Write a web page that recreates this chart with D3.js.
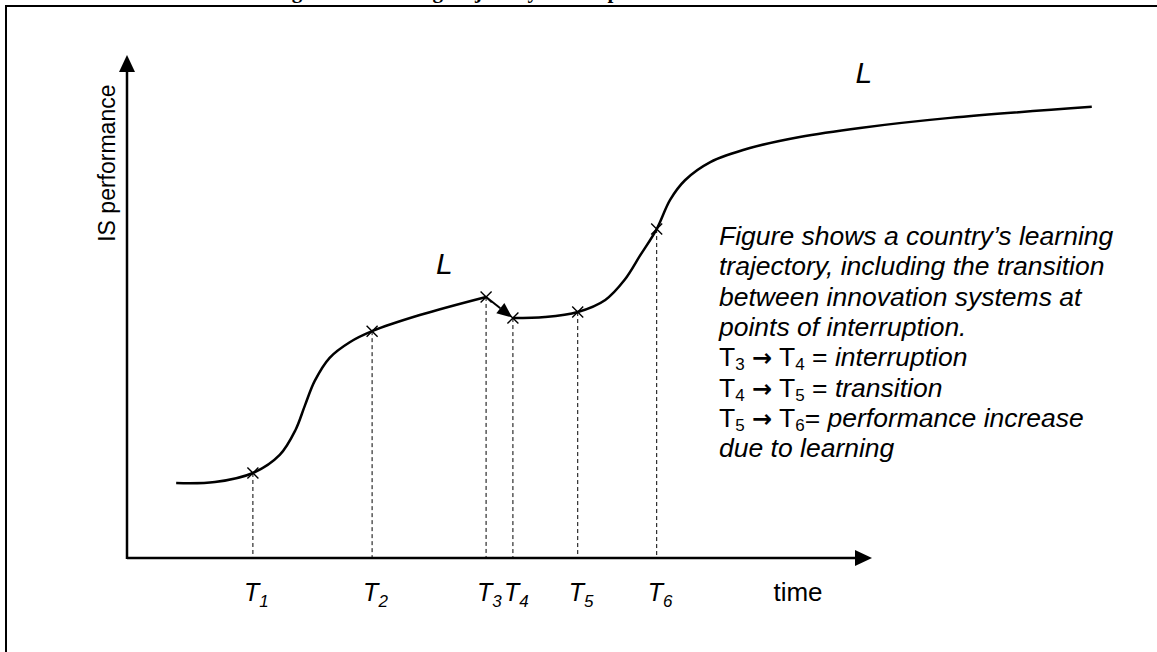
<!DOCTYPE html>
<html><head><meta charset="utf-8">
<script src="https://cdn.jsdelivr.net/npm/d3@7"></script>
<style>body{margin:0;background:#fff}svg{display:block}</style>
</head><body>
<svg id="c" width="1157" height="652"></svg>
<script>
// ---- data (time / performance in arbitrary 0-100 units) ----
const curveBefore = [[6.6,14.9],[11.8,15.1],[16.9,16.9],[20.5,20.5],[22.6,25.4],[23.9,30.4],[25.2,35.2],[27.2,39.8],[29.9,42.9],[32.9,45.1],[39.3,48.3],[48.2,51.9]];
const curveAfter = [[51.8,47.7],[56.1,47.9],[60.5,48.9],[64.2,51.3],[66.8,55.3],[68.9,60.2],[71.1,65.4],[72.9,71.2],[74.9,75.1],[78.3,78.7],[83.6,81.5],[90.3,83.7],[98.4,85.5],[110.5,87.5],[129.5,89.7]];
const markerNames = ["1","2","3","4","5","6"];
const markerX = [16.9,32.9,48.2,51.8,60.5,71.1];
const markerY = [16.9,45.1,51.9,47.7,48.9,65.4];
const curveLabels = [{x:42.6,y:56.5},{x:98.9,y:94.5}];
const xAxisTitle = "time";
const yAxisTitle = "IS performance";
const titleText = "Figure 2: Learning trajectory and IS performance";
const noteLines = [
  [["Figure shows a country’s learning","i"]],
  [["trajectory, including the transition","i"]],
  [["between innovation systems at","i"]],
  [["points of interruption.","i"]],
  [["T","n"],["3","s"],[" ","n"],["→","a"],[" T","n"],["4","s"],[" = ","n"],["interruption","i"]],
  [["T","n"],["4","s"],[" ","n"],["→","a"],[" T","n"],["5","s"],[" = ","n"],["transition","i"]],
  [["T","n"],["5","s"],[" ","n"],["→","a"],[" T","n"],["6","s"],["= ","n"],["performance increase","i"]],
  [["due to learning","i"]]
];

const svg = d3.select("#c");
const F = "'Liberation Sans', Arial, sans-serif";
const x = d3.scaleLinear().domain([0,100]).range([127,872]);
const y = d3.scaleLinear().domain([0,100]).range([558,55]);

// frame
svg.append("path").attr("d","M6,1000 V6 H1200").attr("fill","none").attr("stroke","#000").attr("stroke-width",2);
// title (cut off at the top edge, as in the source)
svg.append("text").attr("x",273).attr("y",-2.5).attr("font-family","'Liberation Serif', 'Times New Roman', serif")
  .attr("font-weight","bold").attr("font-size",21).text(titleText);

// axes
const ax = svg.append("g");
ax.append("line").attr("x1",x(0)).attr("x2",x(100)-14).attr("y1",y(0)).attr("y2",y(0)).attr("stroke","#000").attr("stroke-width",2.5);
ax.append("line").attr("x1",x(0)).attr("x2",x(0)).attr("y1",y(0)+1).attr("y2",y(100)+14).attr("stroke","#000").attr("stroke-width",2.5);
ax.append("path").attr("d",`M${x(100)},${y(0)} L${x(100)-17},${y(0)-8} L${x(100)-17},${y(0)+8} Z`).attr("fill","#000");
ax.append("path").attr("d",`M${x(0)},${y(100)} L${x(0)-8},${y(100)+17} L${x(0)+8},${y(100)+17} Z`).attr("fill","#000");

// dashed drop lines
const pts = markerNames.map((n,i)=>({n, x:markerX[i], y:markerY[i]}));
svg.selectAll(".drop").data(pts).join("line")
  .attr("x1",d=>x(d.x)).attr("x2",d=>x(d.x)).attr("y1",d=>y(d.y)).attr("y2",y(0))
  .attr("stroke","#000").attr("stroke-width",1).attr("stroke-dasharray","4,3");

// curves
const line = d3.line().x(d=>x(d[0])).y(d=>y(d[1])).curve(d3.curveCatmullRom.alpha(0.5));
[curveBefore, curveAfter].forEach(c=>{
  svg.append("path").attr("d",line(c)).attr("fill","none").attr("stroke","#000").attr("stroke-width",2.5);
});

// interruption arrow T3 -> T4
{
  const x1=x(markerX[2]), y1=y(markerY[2]), x2=x(markerX[3]), y2=y(markerY[3]);
  const ang=Math.atan2(y2-y1,x2-x1), L=15, W=6.5;
  const tx=x2-1*Math.cos(ang), ty=y2-1*Math.sin(ang);
  const bx=tx-L*Math.cos(ang), by=ty-L*Math.sin(ang);
  svg.append("line").attr("x1",x1).attr("y1",y1).attr("x2",bx).attr("y2",by).attr("stroke","#000").attr("stroke-width",2);
  svg.append("path").attr("d",`M${tx},${ty} L${bx+W*Math.sin(ang)},${by-W*Math.cos(ang)} L${bx-W*Math.sin(ang)},${by+W*Math.cos(ang)} Z`).attr("fill","#000");
}

// cross markers
svg.selectAll(".mk").data(pts).join("path")
  .attr("d",d=>{const cx=x(d.x), cy=y(d.y), r=5.5; return `M${cx-r},${cy-r}L${cx+r},${cy+r}M${cx-r},${cy+r}L${cx+r},${cy-r}`;})
  .attr("stroke","#000").attr("stroke-width",1.4).attr("fill","none");

// T labels on time axis
const tl = svg.selectAll(".tl").data(pts).join("text")
  .attr("x",d=>x(d.x)-9).attr("y",601).attr("font-family",F).attr("font-size",25).attr("font-style","italic");
tl.append("tspan").text("T");
tl.append("tspan").attr("dy",6).attr("font-size",17).text(d=>d.n);

svg.append("text").attr("x",798).attr("y",601).attr("text-anchor","middle").attr("font-family",F).attr("font-size",26).text(xAxisTitle);
svg.append("text").attr("transform",`translate(115,${y(78.5)}) rotate(-90)`).attr("text-anchor","middle").attr("font-family",F).attr("font-size",23).text(yAxisTitle);

// L labels
svg.selectAll(".L").data(curveLabels).join("text").attr("x",d=>x(d.x)).attr("y",d=>y(d.y))
  .attr("text-anchor","middle").attr("font-family",F).attr("font-style","italic").attr("font-size",30).text("L");

// annotation
const nt = svg.append("g").attr("font-family",F).attr("font-size",26.5);
noteLines.forEach((ln,i)=>{
  const t = nt.append("text").attr("x",719).attr("y",245+i*30.3);
  let sub=false;
  ln.forEach(([s,k])=>{
    const sp = t.append("tspan").text(s);
    if(k==="i") sp.attr("font-style","italic");
    if(k==="a") sp.attr("font-family","'DejaVu Sans', sans-serif").attr("font-weight","bold").attr("font-size",24);
    if(k==="s"){ sp.attr("font-size",17).attr("dy",4); sub=true; }
    else if(sub){ sp.attr("dy",-4); sub=false; }
  });
});
</script>
</body></html>
